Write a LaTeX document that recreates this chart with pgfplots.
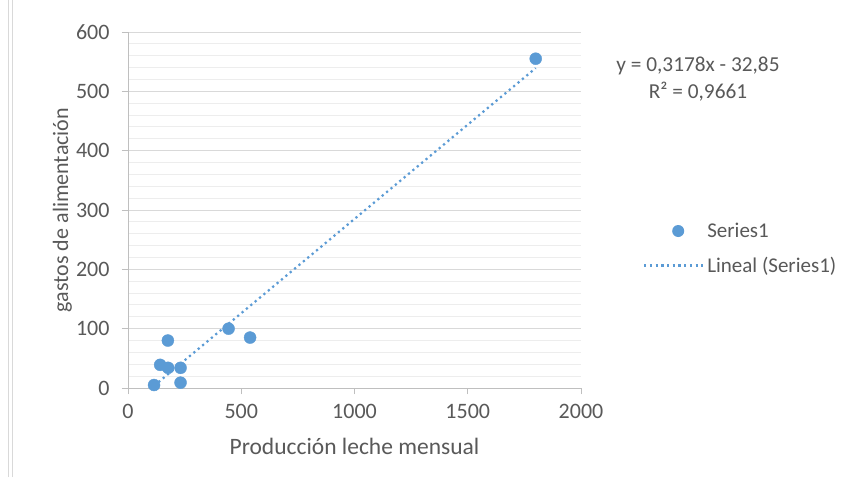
\documentclass[border=0pt]{standalone}
\usepackage{pgfplots}
\pgfplotsset{compat=1.18}
\usepackage{fontspec}
\setmainfont{Carlito}
\definecolor{txt}{HTML}{595959}
\definecolor{axl}{HTML}{BFBFBF}
\definecolor{gmaj}{HTML}{D9D9D9}
\definecolor{gmin}{HTML}{EDEDED}
\definecolor{ser}{HTML}{5B9BD5}
\pgfplotsset{
  mylegmark/.style={legend image code/.code={\path[draw=none] (0pt,0pt) -- (60pt,0pt); \fill[ser, draw=none] (34pt,0pt) circle (6pt);}},
  mylegline/.style={legend image code/.code={\draw[##1] (0pt,0pt) -- (60pt,0pt);}},
}
\begin{document}
\begin{tikzpicture}[x=1pt,y=1pt]
\path[use as bounding box, fill=white] (0,0) rectangle (851,477);
\draw[gmaj, line width=1pt] (8.5,0) -- (8.5,477);
\draw[gmaj, line width=1pt] (12.5,0) -- (12.5,477);
\begin{axis}[
  at={(128pt,89pt)}, anchor=south west,
  width=453pt, height=356pt, scale only axis,
  xmin=0, xmax=2000, ymin=0, ymax=600,
  xtick={0,500,...,2000}, ytick={0,100,...,600},
  minor y tick num=4,
  axis x line*=bottom, axis y line*=left,
  every outer x axis line/.append style={-},
  every outer y axis line/.append style={-},
  axis line style={-, axl, line width=1pt},
  ymajorgrids, yminorgrids,
  major grid style={gmaj, line width=1pt},
  minor grid style={gmin, line width=1pt},
  tick align=outside,
  major tick length=6pt, minor tick length=0pt,
  tick style={axl, line width=1pt},
  ticklabel style={font=\fontsize{22}{26}\selectfont, text=txt},
  yticklabel style={xshift=-9pt},
  xticklabel style={yshift=-7pt},
  /pgf/number format/assume math mode=true,
  scaled ticks=false, /pgf/number format/1000 sep={},
  xlabel={Producción leche mensual},
  ylabel={gastos de alimentación},
  label style={text=txt},
  x label style={font=\fontsize{23.5}{28}\selectfont, at={(axis description cs:0.5,-0.165)}, anchor=center},
  y label style={font=\fontsize{22}{26}\selectfont, at={(axis description cs:-0.145,0.5)}, anchor=center},
  legend style={draw=none, fill=none, at={(axis description cs:1.13,0.392)}, anchor=west,
    font=\fontsize{21}{25}\selectfont, text=txt, row sep=14pt},
  legend cell align=left,
  clip=false,
]
\addplot[ser, line width=2.2pt, dash pattern=on 2.2pt off 3.5pt, forget plot]
  coordinates {(115,3.7) (1800,539.2)};
\addplot[only marks, mark=*, mark size=6pt, ser, mark options={fill=ser, draw=ser}, mylegmark]
  coordinates {(115,5) (142,39) (176,80) (177,34) (232,34) (232,9) (444,100) (539,85) (1800,555)};
\addlegendentry{Series1}
\addlegendimage{ser, line width=2.2pt, dash pattern=on 2.2pt off 3.5pt, mylegline}
\addlegendentry{Lineal (Series1)}
\end{axis}
\node[text=txt, font=\fontsize{21.3}{25}\selectfont] at (698,411) {y = 0,3178x - 32,85};
\node[text=txt, font=\fontsize{21.3}{25}\selectfont] at (698,385) {R² = 0,9661};
\end{tikzpicture}
\end{document}
